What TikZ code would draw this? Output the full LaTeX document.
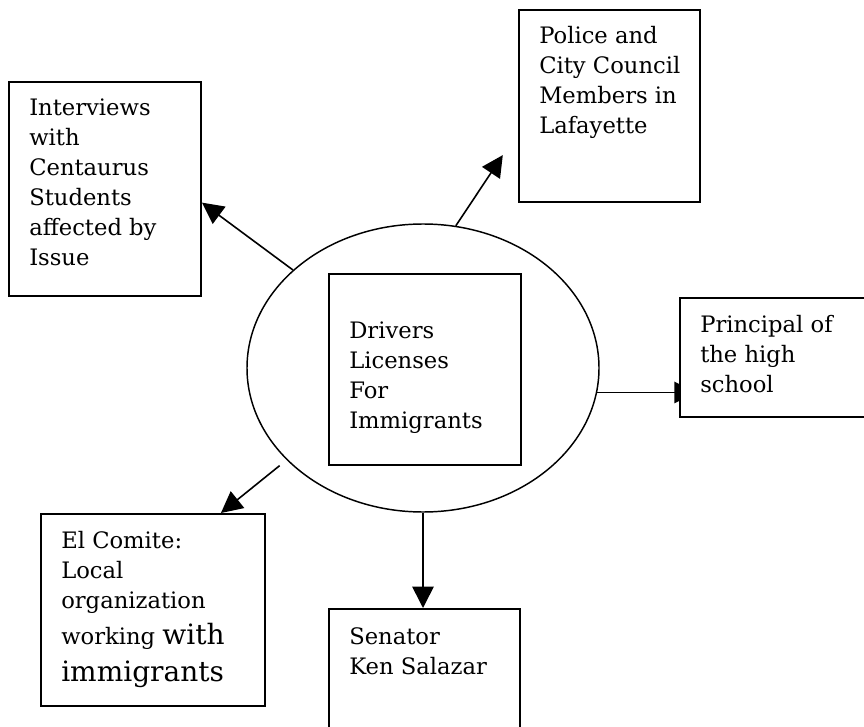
\documentclass[tikz,border=0pt]{standalone}
\usepackage{fontspec}
\setmainfont{DejaVu Serif}
\usetikzlibrary{arrows.meta,shapes.geometric,backgrounds}
\tikzset{
  box/.style={draw,line width=1.5pt,fill=white,rectangle,inner sep=0pt,anchor=north west},
  hubshape/.style={draw,ellipse,line width=1.1pt,inner sep=0pt,minimum width=264pt,minimum height=216pt},
  txt/.style={anchor=north west,inner sep=0pt,align=left,font=\fontsize{17}{22.5}\selectfont},
  arr/.style={line width=1.2pt,-{Triangle[length=16pt,width=16pt]}},
}
\newcommand{\firstline}{\rule{0pt}{13pt}}
\newcommand{\bigword}{\fontsize{21}{27}\selectfont}
\begin{document}
\begin{tikzpicture}[x=0.75pt,y=0.75pt,yscale=-1,xscale=1]
    \useasboundingbox (0,0) rectangle (864,727);
    \clip (0,0) rectangle (864,727);
    %Shape: Ellipse [id:hub]
    \node[hubshape] (hub) at (423,368) {};
    %Shape: Rectangle [id:drv]
    \node[box,minimum width=144pt,minimum height=143.25pt] (drv) at (328,273) {};
    %Shape: Rectangle [id:intv]
    \node[box,minimum width=144pt,minimum height=160.5pt] (intv) at (8,81) {};
    %Shape: Rectangle [id:pol]
    \node[box,minimum width=135.75pt,minimum height=144pt] (pol) at (518,9) {};
    %Shape: Rectangle [id:prn]
    \node[box,minimum width=165.75pt,minimum height=89.25pt] (prn) at (679,297) {};
    %Shape: Rectangle [id:com]
    \node[box,minimum width=168pt,minimum height=144pt] (com) at (40,513) {};
    %Shape: Rectangle [id:sen]
    \node[box,minimum width=143.25pt,minimum height=112.5pt] (sen) at (328,608) {};
    % Text Node
    \node[txt] (drvtxt) at (349,320.7) {\firstline Drivers\\Licenses\\For\\Immigrants};
    % Text Node
    \node[txt] (intvtxt) at (29,97.7) {\firstline Interviews\\with\\Centaurus\\Students\\affected by\\Issue};
    % Text Node
    \node[txt] (poltxt) at (539,25.7) {\firstline Police and\\City Council\\Members in\\Lafayette};
    % Text Node
    \node[txt] (prntxt) at (700,314.7) {\firstline Principal of\\the high\\school};
    % Text Node
    \node[txt] (comtxt) at (61,530.7) {\firstline El Comite:\\Local\\organization\\[4.5pt]working {\bigword with}\\[5.25pt]{\bigword immigrants}};
    % Text Node
    \node[txt] (sentxt) at (349,626.7) {\firstline Senator\\Ken Salazar};
    %Arrows
    \begin{pgfonlayer}{background}
    \draw[arr] (hub.143) -- (intv.-8.3);
    \draw[arr,shorten >=20.6pt] (hub.77) -- (pol.196);
    \draw[arr,shorten >=-12.6pt] (hub.-8) -- (hub.-8 -| prn.west);
    \draw[arr,shorten <=6.7pt] (hub.214) -- (com.55.9);
    \draw[arr] (hub.south) -- (hub.south |- sen.north);
    \end{pgfonlayer}
\end{tikzpicture}
\end{document}
